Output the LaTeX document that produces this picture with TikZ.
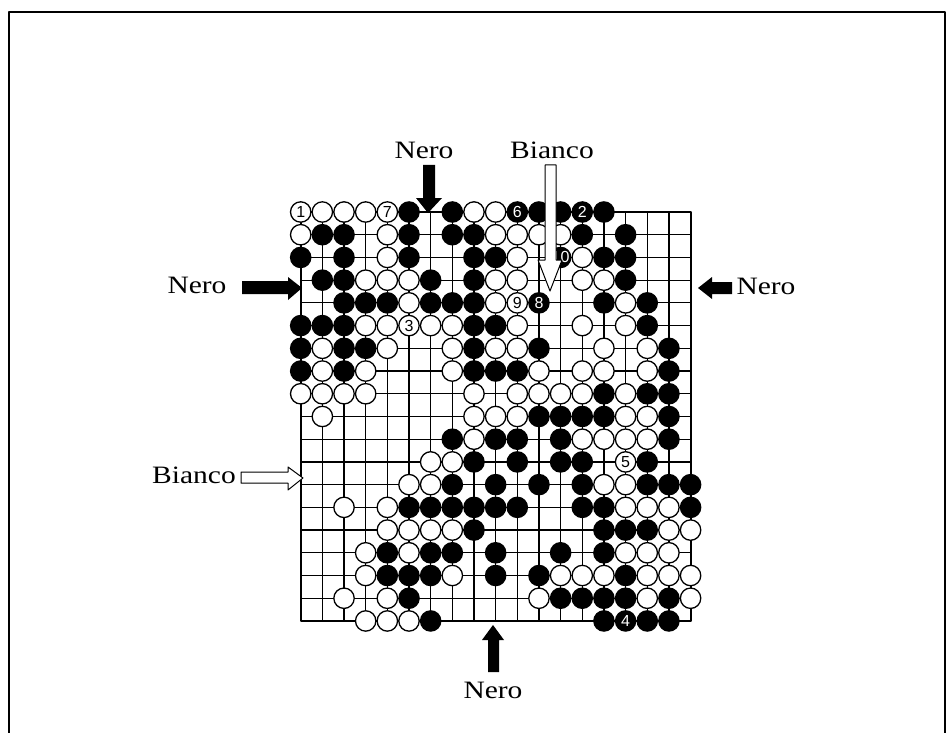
\documentclass[tikz,border=0pt]{standalone}
\usepackage{fontspec}
\setmainfont{Liberation Serif}[FakeStretch=1.18]
\setsansfont{Liberation Sans}
\tikzset{
  wstone/.style={draw=black, line width=1.3pt, fill=white},
  lbl/.style={anchor=base, inner sep=0pt, font=\fontsize{25}{30}\selectfont},
  num/.style={inner sep=0pt, font=\sffamily\fontsize{16}{16}\selectfont},
  barrow/.style={fill=black},
  warrow/.style={draw=black, line width=1pt, fill=white},
}
\begin{document}
\begin{tikzpicture}[x=1pt, y=-1pt, line join=round]
\useasboundingbox (0,0) rectangle (948,733);
% cornice
\draw[line width=2pt] (9,745) -- (9,12) -- (945,12) -- (945,745);
% goban 19x19
\begin{scope}[shift={(300.7,212)}, x=21.66pt, y=-22.72pt]
  \foreach \i in {0,...,18} {
    \draw[line width=1.2pt] (\i,0) -- (\i,18);
    \draw[line width=1.2pt] (0,\i) -- (18,\i);
  }
  \draw[line width=2pt] (0,0) rectangle (18,18);
  % pietre nere
  \foreach \r/\cs in {0/{5,7,10,11,12,13,14}, 1/{1,2,5,7,8,13,15}, 2/{0,2,5,8,9,12,14,15},
      3/{1,2,6,8,15}, 4/{2,3,4,6,7,8,11,14,16}, 5/{0,1,2,8,9,16}, 6/{0,2,3,8,11,17},
      7/{0,2,8,9,10,17}, 8/{14,16,17}, 9/{11,12,13,14,17}, 10/{7,9,10,12,17},
      11/{8,10,12,13,16}, 12/{7,9,11,13,16,17,18}, 13/{5,6,7,8,9,10,13,14,18},
      14/{8,14,15,16}, 15/{4,6,7,9,12,14}, 16/{4,5,6,9,11,15},
      17/{5,12,13,14,15,17}, 18/{6,14,15,16,17}} {
    \foreach \c in \cs {
      \fill (\c,\r) circle (10.8pt);
    }
  }
  % pietre bianche
  \foreach \r/\cs in {0/{0,1,2,3,4,8,9}, 1/{0,4,9,10,11,12}, 2/{4,10,13},
      3/{3,4,5,9,10,13,14}, 4/{5,9,10,15}, 5/{3,4,5,6,7,10,13,15},
      6/{1,4,7,9,10,14,16}, 7/{1,3,7,11,13,14,16}, 8/{0,1,2,3,8,10,11,12,13,15},
      9/{1,8,9,10,15,16}, 10/{8,13,14,15,16}, 11/{6,7,15}, 12/{5,6,14,15},
      13/{2,4,15,16,17}, 14/{4,5,6,7,17,18}, 15/{3,5,15,16,17},
      16/{3,7,12,13,14,16,17,18}, 17/{2,4,11,16,18}, 18/{3,4,5}} {
    \foreach \c in \cs {
      \draw[wstone] (\c,\r) circle (10.2pt);
    }
  }
  % mosse numerate
  \foreach \c/\r/\n in {0/0/1, 5/5/3, 15/11/5, 4/0/7, 10/4/9}
    \node[num] (m\n) at (\c,\r) {\n};
  \foreach \c/\r/\n in {13/0/2, 15/18/4, 10/0/6, 11/4/8, 12/2/10}
    \node[num, text=white] (m\n) at (\c,\r) {\n};
\end{scope}
% frecce
\fill[barrow] (423,165) -- (435,165) -- (435,198) -- (442,198) -- (428,213) -- (416,198) -- (423,198) -- cycle;
\draw[warrow] (545,165) -- (556,165) -- (556,260) -- (562,260) -- (550,291) -- (538,260) -- (545,260) -- cycle;
\fill[barrow] (242,281) -- (288,281) -- (288,277) -- (302,288) -- (288,300) -- (288,294) -- (242,294) -- cycle;
\fill[barrow] (732,282) -- (712,282) -- (712,277) -- (698,288) -- (712,299) -- (712,294) -- (732,294) -- cycle;
\draw[warrow] (241,472) -- (288,472) -- (288,467) -- (303,478) -- (288,490) -- (288,483) -- (241,483) -- cycle;
\fill[barrow] (493,625) -- (504,640) -- (499,640) -- (499,672) -- (488,672) -- (488,640) -- (482,640) -- cycle;
% etichette
\node[lbl] (neroN) at (424,158) {Nero};
\node[lbl] (biancoN) at (552,158) {Bianco};
\node[lbl] (neroW) at (197,293) {Nero};
\node[lbl] (neroE) at (766,294) {Nero};
\node[lbl] (biancoW) at (194,483) {Bianco};
\node[lbl] (neroS) at (493,698) {Nero};
\end{tikzpicture}
\end{document}
